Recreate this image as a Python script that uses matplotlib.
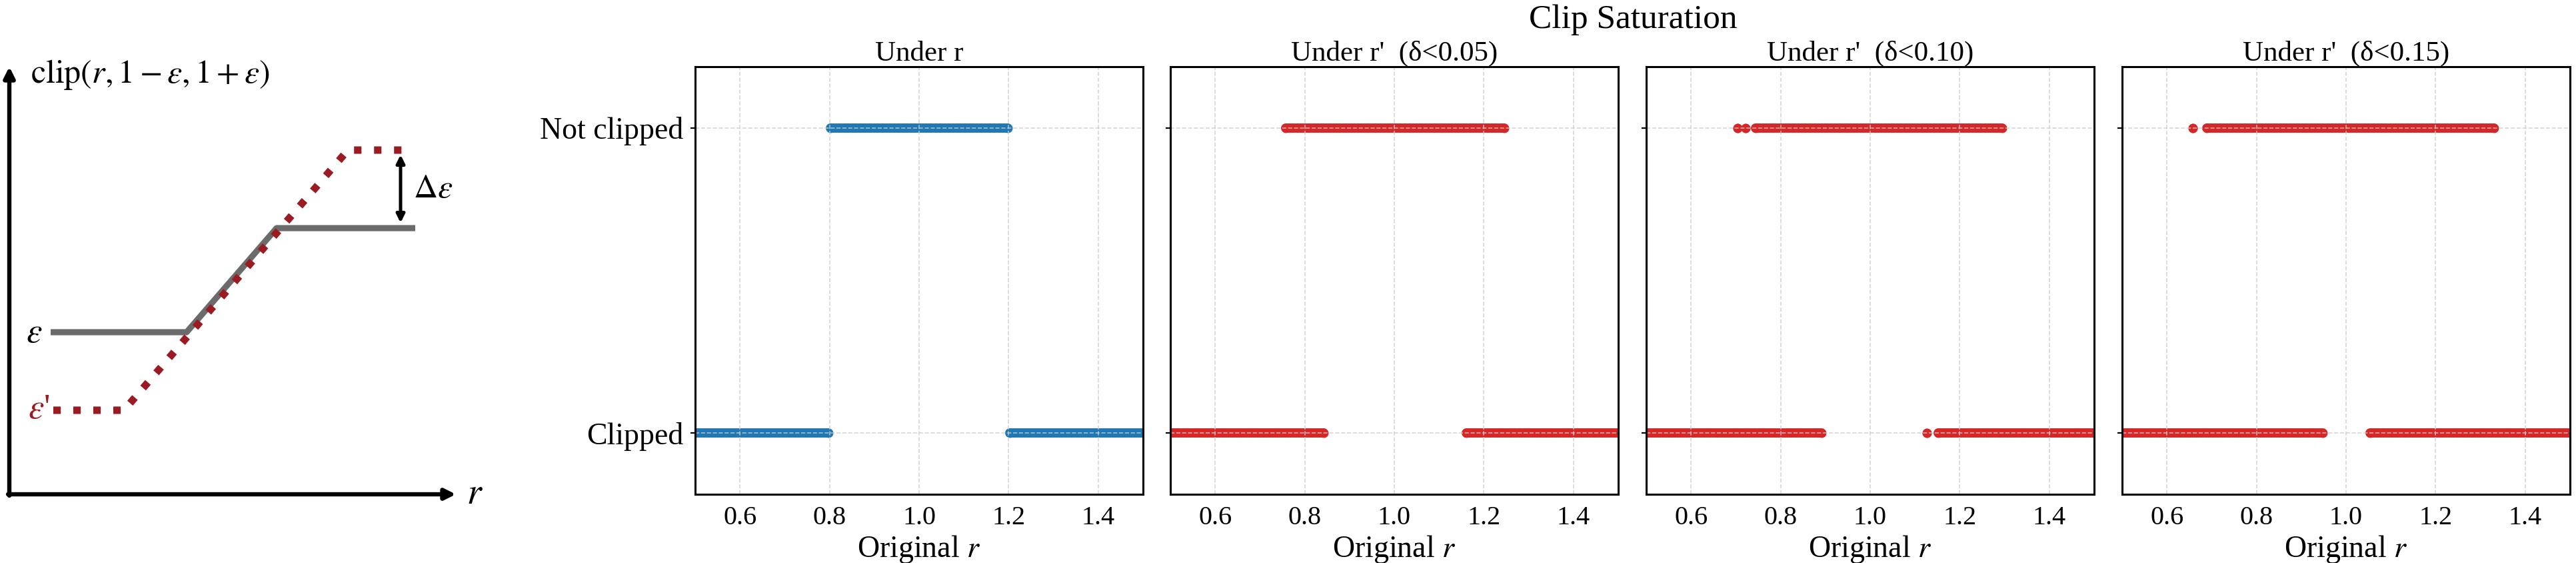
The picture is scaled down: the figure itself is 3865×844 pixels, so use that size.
import matplotlib
matplotlib.use("Agg")
import matplotlib.pyplot as plt

plt.rcParams['font.family'] = ['Liberation Serif', 'DejaVu Serif']
plt.rcParams['mathtext.fontset'] = 'stix'

# ---- data ----
row_labels = ['Clipped', 'Not clipped']
panel_titles = ["Under r", "Under r'  (\u03b4<0.05)", "Under r'  (\u03b4<0.10)", "Under r'  (\u03b4<0.15)"]
panel_colors = ['#1f77b4', '#d62728', '#d62728', '#d62728']
x_ticks = [0.6, 0.8, 1.0, 1.2, 1.4]

# runs of sampled points (start r, end r) per panel
clipped_runs = [
    [(0.50, 0.797), (1.203, 1.50)],
    [(0.50, 0.842), (1.160, 1.50)],
    [(0.50, 0.892), (1.126, 1.126), (1.152, 1.50)],
    [(0.50, 0.948), (1.053, 1.50)],
]
not_clipped_runs = [
    [(0.802, 1.198)],
    [(0.757, 1.245)],
    [(0.704, 0.704), (0.721, 0.721), (0.744, 1.294)],
    [(0.658, 0.658), (0.689, 1.331)],
]

# schematic: piecewise clip curves (pixel-like coords of the sketch)
clip_x = [76, 280, 415, 623]
clip_y = [498, 498, 342, 342]
clip2_x = [80, 186, 522, 617]
clip2_y = [615, 615, 225, 225]

W, H = 3866, 844
fig = plt.figure(figsize=(W / 200, H / 200), dpi=200)

# ---- left schematic ----
sk = fig.add_axes([0, 0, 760 / W, 1])
sk.set_xlim(0, 760)
sk.set_ylim(H, 0)
sk.axis('off')
ax_kw = dict(arrowstyle='-|>', color='black', lw=2.3, mutation_scale=12, shrinkA=0, shrinkB=0)
sk.annotate('', xy=(14, 100), xytext=(14, 743), arrowprops=ax_kw)
sk.annotate('', xy=(684, 741), xytext=(12, 741), arrowprops=ax_kw)
sk.text(700, 741, '$r$', fontsize=20, va='center', ha='left')
sk.text(46, 112, r'$\mathrm{clip}(r, 1-\varepsilon, 1+\varepsilon)$', fontsize=18, va='center', ha='left')
sk.plot(clip_x, clip_y, color='#6b6b6b', lw=3.3, solid_capstyle='butt', solid_joinstyle='round')
sk.plot(clip2_x, clip2_y, color='#9b1b22', lw=4, linestyle=(0, (1, 1.7)))
sk.annotate('', xy=(601, 232), xytext=(601, 334),
            arrowprops=dict(arrowstyle='<|-|>', color='black', lw=1.8, mutation_scale=9, shrinkA=0, shrinkB=0))
sk.text(620, 284, r'$\Delta\varepsilon$', fontsize=18, va='center', ha='left')
sk.text(51, 500, r'$\varepsilon$', fontsize=19, va='center', ha='center')
sk.text(58, 614, r"$\varepsilon$'", fontsize=19, va='center', ha='center', color='#9b1b22')

# ---- scatter panels ----
lefts = [1043, 1756, 2470, 3184]
ax_w = 672
bottom, top = 741, 100
band_lw = 5.0

for i, left in enumerate(lefts):
    ax = fig.add_axes([left / W, 1 - bottom / H, ax_w / W, (bottom - top) / H])
    for yv, runs in ((0, clipped_runs[i]), (1, not_clipped_runs[i])):
        for a, b in runs:
            ax.plot([a, b], [yv, yv], color=panel_colors[i], lw=band_lw, solid_capstyle='round',
                    marker='o', ms=band_lw, mew=0, zorder=1)
    ax.set_xlim(0.5, 1.5)
    ax.set_ylim(-0.2, 1.2)
    ax.set_xticks(x_ticks)
    ax.set_yticks([0, 1])
    ax.set_yticklabels(row_labels)
    ax.grid(True, ls='--', color='#cccccc', lw=0.6, alpha=0.8)
    ax.tick_params(axis='x', labelsize=14.5, length=0, pad=6)
    ax.tick_params(axis='y', labelsize=16.5, length=2.5, width=0.8, pad=4)
    if i > 0:
        ax.tick_params(labelleft=False)
    for s in ax.spines.values():
        s.set_linewidth(1.1)
    ax.set_title(panel_titles[i], fontsize=15.5, pad=3)
    ax.set_xlabel('Original $r$', fontsize=16.5, labelpad=2)

fig.text(2450 / W, 1 - 30 / H, 'Clip Saturation', fontsize=18.5, ha='center', va='center')

fig.savefig('out.png', dpi=200)
